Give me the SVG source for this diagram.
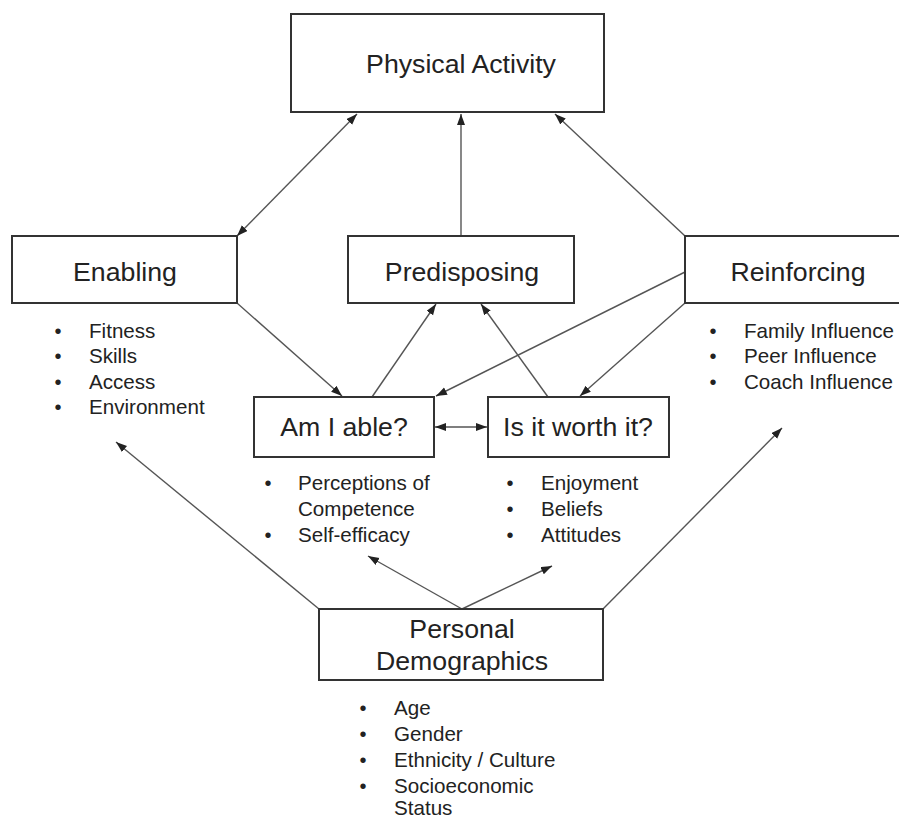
<svg xmlns="http://www.w3.org/2000/svg" width="899" height="819" viewBox="0 0 899 819">
  <style>
    .box { fill: #ffffff; stroke: #333333; stroke-width: 2; }
    .title { font-family: "Liberation Sans", Arial, sans-serif; font-size: 26.7px; fill: #222222; text-anchor: middle; }
    .item { font-family: "Liberation Sans", Arial, sans-serif; font-size: 20.6px; fill: #222222; }
    .dot { font-family: "Liberation Sans", Arial, sans-serif; font-size: 20px; fill: #222222; text-anchor: middle; }
    .link { fill: none; stroke: #555555; stroke-width: 1.4; }
  </style>
  <defs>
    <marker id="arrow" markerUnits="userSpaceOnUse" markerWidth="12" markerHeight="9" refX="11" refY="4" orient="auto-start-reverse">
      <path d="M0,0 L11,4 L0,8 z" fill="#222222"/>
    </marker>
  </defs>
  <rect width="899" height="819" fill="#ffffff"/>

  <!-- connectors -->
  <g id="connectors">
    <line class="link" x1="237" y1="236" x2="357" y2="114" marker-start="url(#arrow)" marker-end="url(#arrow)"/>
    <line class="link" x1="461" y1="236" x2="461" y2="114" marker-end="url(#arrow)"/>
    <line class="link" x1="685" y1="236" x2="555" y2="114" marker-end="url(#arrow)"/>
    <line class="link" x1="237" y1="303" x2="342" y2="396" marker-end="url(#arrow)"/>
    <line class="link" x1="372" y1="397" x2="436" y2="304" marker-end="url(#arrow)"/>
    <line class="link" x1="548" y1="397" x2="481" y2="304" marker-end="url(#arrow)"/>
    <line class="link" x1="685" y1="272" x2="436" y2="396" marker-end="url(#arrow)"/>
    <line class="link" x1="685" y1="303" x2="580" y2="396" marker-end="url(#arrow)"/>
    <line class="link" x1="435" y1="427" x2="487" y2="427" marker-start="url(#arrow)" marker-end="url(#arrow)"/>
    <line class="link" x1="462" y1="609" x2="368" y2="556" marker-end="url(#arrow)"/>
    <line class="link" x1="462" y1="609" x2="552" y2="566" marker-end="url(#arrow)"/>
    <line class="link" x1="319" y1="609" x2="116" y2="442" marker-end="url(#arrow)"/>
    <line class="link" x1="603" y1="609" x2="782" y2="428" marker-end="url(#arrow)"/>
  </g>

  <!-- outcome -->
  <g id="physical-activity">
    <rect class="box" x="291" y="14" width="313" height="98"/>
    <text class="title" x="461" y="73">Physical Activity</text>
  </g>

  <!-- enabling factors -->
  <g id="enabling">
    <rect class="box" x="12" y="236" width="225" height="67"/>
    <text class="title" x="125" y="281">Enabling</text>
    <text class="dot" x="58" y="338">•</text><text class="item" x="89" y="338">Fitness</text>
    <text class="dot" x="58" y="363">•</text><text class="item" x="89" y="363">Skills</text>
    <text class="dot" x="58" y="389">•</text><text class="item" x="89" y="389">Access</text>
    <text class="dot" x="58" y="414">•</text><text class="item" x="89" y="414">Environment</text>
  </g>

  <!-- predisposing factors -->
  <g id="predisposing">
    <rect class="box" x="348" y="236" width="226" height="67"/>
    <text class="title" x="462" y="281">Predisposing</text>
  </g>

  <!-- reinforcing factors -->
  <g id="reinforcing">
    <rect class="box" x="685" y="236" width="226" height="67"/>
    <text class="title" x="798" y="281">Reinforcing</text>
    <text class="dot" x="713" y="338">•</text><text class="item" x="744" y="338">Family Influence</text>
    <text class="dot" x="713" y="363">•</text><text class="item" x="744" y="363">Peer Influence</text>
    <text class="dot" x="713" y="389">•</text><text class="item" x="744" y="389">Coach Influence</text>
  </g>

  <!-- competence -->
  <g id="am-i-able">
    <rect class="box" x="254" y="397" width="180" height="60"/>
    <text class="title" x="344" y="436">Am I able?</text>
    <text class="dot" x="268" y="490">•</text><text class="item" x="298" y="490">Perceptions of</text>
    <text class="item" x="298" y="516">Competence</text>
    <text class="dot" x="268" y="542">•</text><text class="item" x="298" y="542">Self-efficacy</text>
  </g>

  <!-- value -->
  <g id="is-it-worth-it">
    <rect class="box" x="488" y="397" width="181" height="60"/>
    <text class="title" x="578" y="436">Is it worth it?</text>
    <text class="dot" x="510" y="490">•</text><text class="item" x="541" y="490">Enjoyment</text>
    <text class="dot" x="510" y="516">•</text><text class="item" x="541" y="516">Beliefs</text>
    <text class="dot" x="510" y="542">•</text><text class="item" x="541" y="542">Attitudes</text>
  </g>

  <!-- demographics -->
  <g id="personal-demographics">
    <rect class="box" x="319" y="609" width="284" height="71"/>
    <text class="title" x="462" y="638">Personal</text>
    <text class="title" x="462" y="670">Demographics</text>
    <text class="dot" x="363" y="715">•</text><text class="item" x="394" y="715">Age</text>
    <text class="dot" x="363" y="741">•</text><text class="item" x="394" y="741">Gender</text>
    <text class="dot" x="363" y="767">•</text><text class="item" x="394" y="767">Ethnicity / Culture</text>
    <text class="dot" x="363" y="793">•</text><text class="item" x="394" y="793">Socioeconomic</text>
    <text class="item" x="394" y="815">Status</text>
  </g>
</svg>
